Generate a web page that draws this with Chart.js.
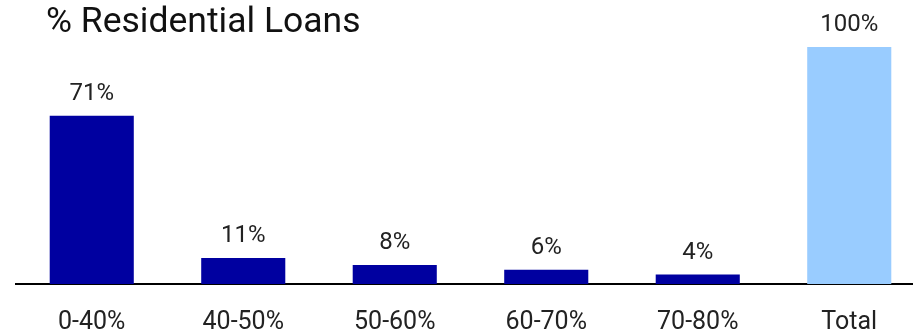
<!DOCTYPE html>
<html lang="en">
<head>
  <meta charset="UTF-8">
  <title>% Residential Loans</title>
  <style>
    html, body {
      margin: 0;
      padding: 0;
      background: white;
      overflow: hidden;
    }
    .chartBox {
      position: relative;
      width: 925px;
      height: 334px;
    }
    .chartTitle {
      position: absolute;
      left: 46px;
      top: 0px;
      font-family: Roboto, sans-serif;
      font-size: 35.5px;
      line-height: 40px;
      color: #111;
    }
  </style>
</head>
<body>

  <div class="chartBox">
    <canvas id="myChart"></canvas>
    <div class="chartTitle">% Residential Loans</div>
  </div>

<script src="https://cdn.jsdelivr.net/npm/chart.js/dist/chart.umd.min.js"></script>
<script>
  const categories = ['0-40%', '40-50%', '50-60%', '60-70%', '70-80%', 'Total'];
  const shares = [71, 11, 8, 6, 4, 100];
  const barColors = ['#0000A0', '#0000A0', '#0000A0', '#0000A0', '#0000A0', '#99CCFF'];

  // value labels above each bar
  const valueLabels = {
    id: 'valueLabels',
    afterDatasetsDraw(chart) {
      const { ctx } = chart;
      const meta = chart.getDatasetMeta(0);
      ctx.save();
      ctx.font = '24px Roboto, sans-serif';
      ctx.fillStyle = '#222';
      ctx.textAlign = 'center';
      ctx.textBaseline = 'alphabetic';
      meta.data.forEach((bar, i) => {
        ctx.fillText(shares[i] + '%', bar.x, bar.y - 16);
      });
      ctx.restore();
    }
  };

  const config = {
    type: 'bar',
    data: {
      labels: categories,
      datasets: [{
        data: shares,
        backgroundColor: barColors,
        barPercentage: 0.555,
        categoryPercentage: 1
      }]
    },
    options: {
      responsive: true,
      maintainAspectRatio: false,
      animation: false,
      layout: {
        padding: { top: 47, left: 16, right: 0, bottom: 0 }
      },
      scales: {
        x: {
          grid: { display: false },
          border: { display: true, color: '#000', width: 2 },
          ticks: {
            color: '#222',
            padding: 16,
            font: { family: 'Roboto, sans-serif', size: 25 }
          },
          // keep the axis band a fixed height so the baseline sits low
          afterFit(scale) {
            scale.height = 50;
          }
        },
        y: {
          display: false,
          min: 0,
          max: 100
        }
      },
      plugins: {
        legend: { display: false },
        tooltip: { enabled: false }
      }
    },
    plugins: [valueLabels]
  };

  const myChart = new Chart(document.getElementById('myChart'), config);
</script>
</body>
</html>
